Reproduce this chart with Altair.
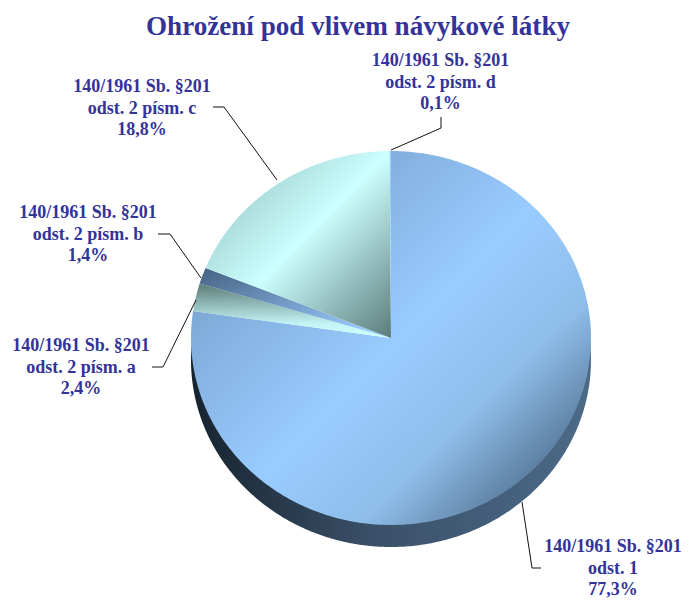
import math
import altair as alt
import pandas as pd

TITLE = "Ohrožení pod vlivem návykové látky"
CATEGORIES = ["odst. 1", "odst. 2 písm. a", "odst. 2 písm. b", "odst. 2 písm. c", "odst. 2 písm. d"]
PERCENT = [77.3, 2.4, 1.4, 18.8, 0.1]
PREFIX = "140/1961 Sb. §201"

NAVY = "#333399"
W, H = 674, 590
XR = [183, 583]
YR = [517, 143]


def grad(stops, x1=0.0, y1=0.0, x2=1.0, y2=1.0):
    return alt.LinearGradient(
        gradient="linear", x1=x1, y1=y1, x2=x2, y2=y2,
        stops=[alt.GradientStop(offset=o, color=c) for o, c in stops],
    )


BLUE = grad([(0, "#7199c4"), (0.5, "#99ccff"), (0.72, "#8ebde9"), (1, "#3f5a76")], 0.05, 0.1, 0.95, 0.95)
CYAN = grad([(0.15, "#9ecfcf"), (0.5, "#ccffff"), (1, "#5c7b7b")], 0.0, 0.0, 1.0, 1.0)
A_FILL = grad([(0, "#5e7c78"), (0.75, "#c2f4f4"), (1, "#ccffff")], 0.2, 0.0, 0.25, 1.0)
B_FILL = grad([(0, "#4a6788"), (1, "#99ccff")], 0.0, 0.1, 0.85, 0.9)
FILLS = [BLUE, A_FILL, B_FILL, CYAN, "#99ccff"]
RIM = grad([(0, "#16232f"), (0.45, "#3a5068"), (1, "#4c6a88")], 0, 0, 1, 0)

# slices: angles follow from the percentages, clockwise from twelve o'clock
total = sum(PERCENT)
slices = []
cum = 0.0
for c, p in zip(CATEGORIES, PERCENT):
    a0 = cum / total * 2 * math.pi
    cum += p
    a1 = cum / total * 2 * math.pi
    n = max(2, int((a1 - a0) * 90))
    pts = [(0.0, 0.0)]
    pts += [(math.sin(a0 + (a1 - a0) * i / n), math.cos(a0 + (a1 - a0) * i / n)) for i in range(n + 1)]
    pts += [(0.0, 0.0)]
    slices.append(pd.DataFrame({"x": [q[0] for q in pts], "y": [q[1] for q in pts], "i": range(len(pts)), "cat": c}))

xs = alt.Scale(domain=[-1, 1], range=XR)
ys = alt.Scale(domain=[-1, 1], range=YR)


def sector(df, fill, **kw):
    return alt.Chart(df).mark_line(filled=True, fill=fill, strokeWidth=0, interpolate="linear", **kw).encode(
        x=alt.X("x:Q", scale=xs, axis=None),
        y=alt.Y("y:Q", scale=ys, axis=None),
        order="i:Q",
    )


layers = [sector(slices[0], RIM, yOffset=22)]
layers += [sector(df, f) for df, f in zip(slices, FILLS)]

# leader lines and label placement, in page-layout pixels (plot-area coordinates)
LEADERS = [
    [(533, 560), (524, 560), (514, 494)],
    [(144, 359), (155, 359), (188, 292)],
    [(150, 226), (162, 226), (193, 270)],
    [(205, 99), (216, 99), (269, 172)],
    [(383, 142), (433, 120), (433, 109)],
]
LABEL_POS = [(605, 539), (73, 338), (80, 205), (134, 79), (432.5, 53)]
lead_rows = []
for k, pts in enumerate(LEADERS):
    for j, (lx, ly) in enumerate(pts):
        lead_rows.append({"k": k, "j": j, "lx": lx, "ly": ly})
layers.append(
    alt.Chart(pd.DataFrame(lead_rows)).mark_line(color="#111111", strokeWidth=1).encode(
        x=alt.X("lx:Q", scale=None, axis=None),
        y=alt.Y("ly:Q", scale=None, axis=None),
        detail="k:N",
        order="j:Q",
    )
)

labels = pd.DataFrame({
    "lx": [q[0] for q in LABEL_POS],
    "ly": [q[1] for q in LABEL_POS],
    "t": [f"{PREFIX}\n{c}\n{str(p).replace('.', ',')}%" for c, p in zip(CATEGORIES, PERCENT)],
})
layers.append(
    alt.Chart(labels).mark_text(
        font="Liberation Serif", fontWeight="bold", fontSize=18, color=NAVY,
        lineBreak="\n", lineHeight=21.5, align="center", baseline="middle",
    ).encode(
        x=alt.X("lx:Q", scale=None, axis=None),
        y=alt.Y("ly:Q", scale=None, axis=None),
        text="t:N",
    )
)
layers.append(
    alt.Chart(pd.DataFrame({"t": [TITLE]})).mark_text(
        font="Liberation Serif", fontWeight="bold", fontSize=27.1, color=NAVY,
        align="center", baseline="middle",
    ).encode(x=alt.value(350), y=alt.value(19), text="t:N")
)

chart = alt.layer(*layers).resolve_scale(x="independent", y="independent").properties(
    width=W, height=H, padding=0, background="white", autosize=alt.AutoSizeParams(type="none"),
).configure_view(stroke=None)

chart.save("out.html", embed_options={"renderer": "svg", "actions": False})
